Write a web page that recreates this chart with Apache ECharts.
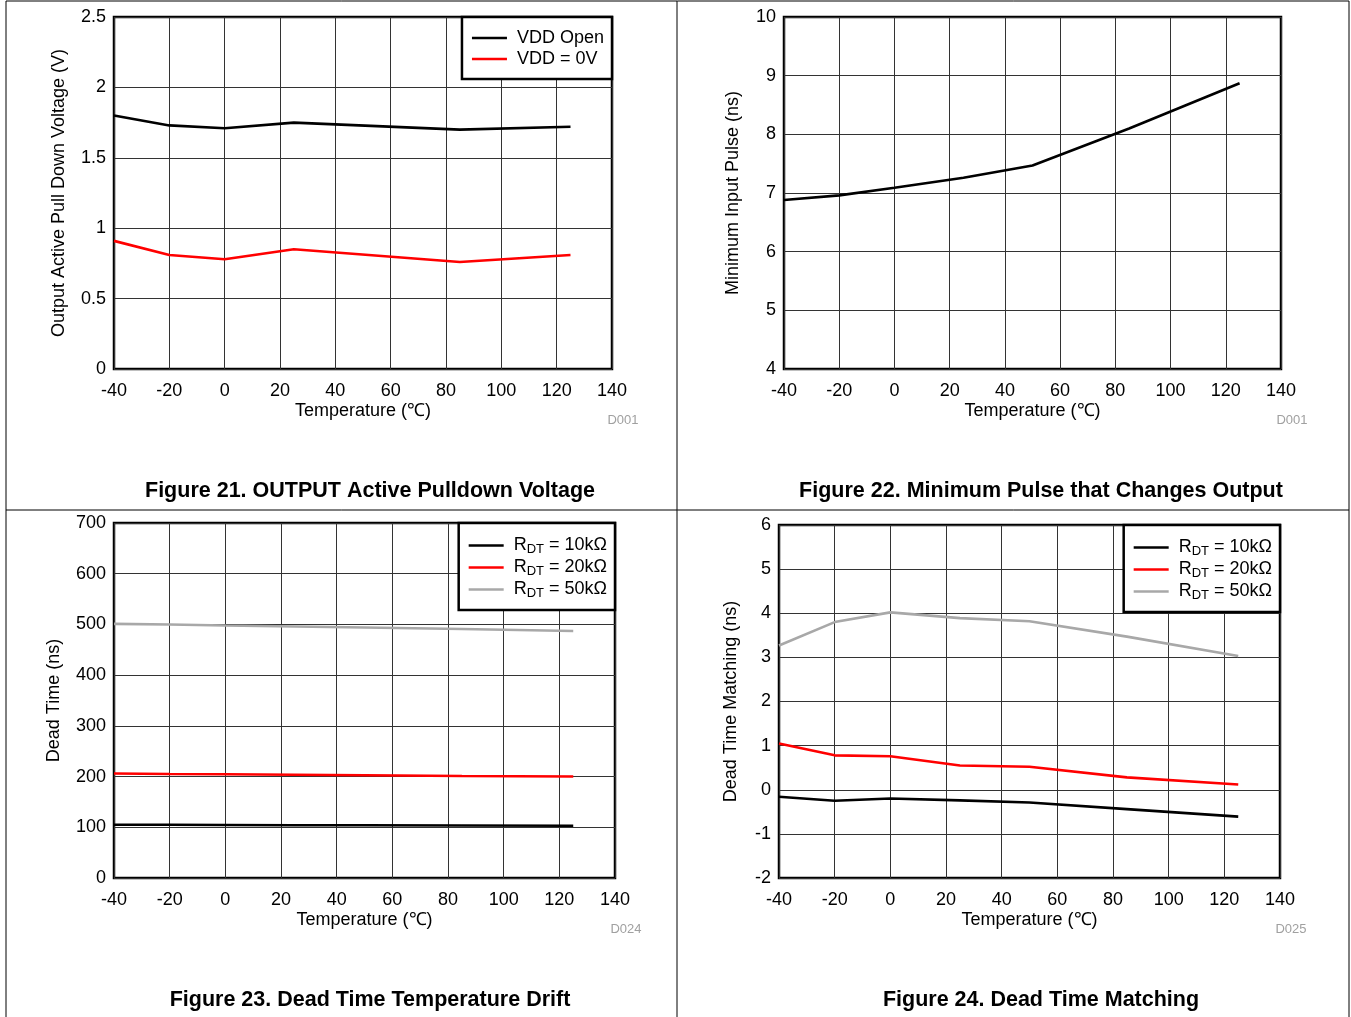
<!DOCTYPE html>
<html>
<head>
<meta charset="utf-8">
<script src="https://cdn.jsdelivr.net/npm/echarts@6/dist/echarts.min.js"></script>
<style>
html,body{margin:0;padding:0;background:#fff;}
#c{width:1351px;height:1017px;}
</style>
</head>
<body>
<div id="c"></div>
<script>
// ---- Data ----
const xTicks = [-40, -20, 0, 20, 40, 60, 80, 100, 120, 140];

// Figure 21
const f21Temp = [-40, -20, 0, 25, 85, 125];
const f21VddOpen = [1.80, 1.73, 1.71, 1.75, 1.70, 1.72];
const f21Vdd0V = [0.91, 0.81, 0.78, 0.85, 0.76, 0.81];

// Figure 22
const f22Temp = [-40, -20, 0, 25, 50, 85, 125];
const f22Pulse = [6.88, 6.96, 7.09, 7.26, 7.47, 8.10, 8.87];

// Figure 23
const f23Temp = [-40, -20, 0, 25, 50, 85, 125];
const f23R10 = [105, 105, 104.5, 104, 104, 103.5, 103];
const f23R20 = [206, 205, 204.5, 203.5, 202.5, 201, 200];
const f23R50 = [501, 500, 498, 496, 494, 491, 487];

// Figure 24
const f24Temp = [-40, -20, 0, 25, 50, 85, 125];
const f24R10 = [-0.16, -0.25, -0.20, -0.24, -0.29, -0.44, -0.61];
const f24R20 = [1.05, 0.78, 0.76, 0.55, 0.52, 0.28, 0.12];
const f24R50 = [3.27, 3.80, 4.02, 3.89, 3.82, 3.47, 3.03];

const captions = ['Figure 21. OUTPUT Active Pulldown Voltage', 'Figure 22. Minimum Pulse that Changes Output',
                  'Figure 23. Dead Time Temperature Drift', 'Figure 24. Dead Time Matching'];
const codes = ['D001', 'D001', 'D024', 'D025'];
const yNames = ['Output Active Pull Down Voltage (V)', 'Minimum Input Pulse (ns)', 'Dead Time (ns)', 'Dead Time Matching (ns)'];
const xName = 'Temperature (\u2103)';

// ---- Build ----
const FONT = 'Liberation Sans, Arial, sans-serif';
const FS = 18;
const pairs = (xs, ys) => xs.map((x, i) => [x, ys[i]]);

const grids = [
  {left: 114, top: 17, width: 498, height: 352},
  {left: 784, top: 17, width: 497, height: 352},
  {left: 114, top: 523, width: 501, height: 355},
  {left: 779, top: 525, width: 501, height: 353}
];
const yRanges = [[0, 2.5, 0.5], [4, 10, 1], [0, 700, 100], [-2, 6, 1]];
const yGaps = [46, 42, 51, 39];

const gridOpts = grids.map(g => Object.assign({show: true, borderColor: '#000', borderWidth: 2.5, backgroundColor: 'transparent', containLabel: false}, g));

const xAxes = grids.map((g, i) => ({
  gridIndex: i, type: 'value', min: -40, max: 140, interval: 20,
  name: xName, nameLocation: 'middle', nameGap: 33,
  nameTextStyle: {fontSize: FS, color: '#000', fontFamily: FONT},
  axisLine: {show: false}, axisTick: {show: false},
  axisLabel: {fontSize: FS, color: '#000', fontFamily: FONT, margin: 13},
  splitLine: {show: true, lineStyle: {color: '#333', width: 1}}
}));
const yAxes = grids.map((g, i) => ({
  gridIndex: i, type: 'value', min: yRanges[i][0], max: yRanges[i][1], interval: yRanges[i][2],
  name: yNames[i], nameLocation: 'middle', nameGap: yGaps[i],
  nameTextStyle: {fontSize: FS, color: '#000', fontFamily: FONT},
  axisLine: {show: false}, axisTick: {show: false},
  axisLabel: {fontSize: FS, color: '#000', fontFamily: FONT, margin: 8},
  splitLine: {show: true, lineStyle: {color: '#333', width: 1}}
}));

const BLACK = '#000000', RED = '#ff0000', GRAY = '#a8a8a8';
function line(name, i, xs, ys, color) {
  return {name: name, type: 'line', xAxisIndex: i, yAxisIndex: i, data: pairs(xs, ys),
    symbol: 'none', lineStyle: {color: color, width: 2.6}, itemStyle: {color: color},
    animation: false, z: 3};
}
const series = [
  line('VDD Open', 0, f21Temp, f21VddOpen, BLACK),
  line('VDD = 0V', 0, f21Temp, f21Vdd0V, RED),
  line('f22', 1, f22Temp, f22Pulse, BLACK),
  line('a10', 2, f23Temp, f23R10, BLACK),
  line('a20', 2, f23Temp, f23R20, RED),
  line('a50', 2, f23Temp, f23R50, GRAY),
  line('b10', 3, f24Temp, f24R10, BLACK),
  line('b20', 3, f24Temp, f24R20, RED),
  line('b50', 3, f24Temp, f24R50, GRAY)
];

const rich = {
  m: {fontSize: FS, color: '#000', fontFamily: FONT, lineHeight: 20},
  s: {fontSize: 13, color: '#000', fontFamily: FONT, lineHeight: 12, padding: [8, 0, 0, 0]}
};
const rLabel = {a10: '10', a20: '20', a50: '50', b10: '10', b20: '20', b50: '50'};
function legendBase(data, right, top, pad, gap) {
  return {
    show: true, data: data, orient: 'vertical', right: right, top: top, padding: pad,
    itemGap: gap, itemWidth: 35, itemHeight: 2.5, icon: 'rect', selectedMode: false,
    backgroundColor: '#fff', borderColor: '#000', borderWidth: 2.5, borderRadius: 0, z: 10,
    textStyle: {fontSize: FS, color: '#000', fontFamily: FONT, padding: [0, 0, 0, 5], rich: rich},
    formatter: n => rLabel[n] ? '{m|R}{s|DT}{m| = ' + rLabel[n] + 'k\u03A9}' : '{m|' + n + '}'
  };
}
const legends = [
  legendBase(['VDD Open', 'VDD = 0V'], 1351 - 612, 17, [12, 8, 11, 10], 3),
  legendBase(['a10', 'a20', 'a50'], 1351 - 615, 523, [12, 8, 10, 10], 1),
  legendBase(['b10', 'b20', 'b50'], 1351 - 1280, 525, [12, 8, 10, 10], 1)
];

const capPos = [[370, 491], [1041, 491], [370, 1000], [1041, 1000]];
const codePos = [[623, 420], [1292, 420], [626, 929], [1291, 929]];
const graphics = [];
capPos.forEach((p, i) => graphics.push({type: 'text', z: 20,
  style: {text: captions[i], x: p[0], y: p[1], textAlign: 'center', textVerticalAlign: 'middle',
    font: 'bold 21.5px ' + FONT, fill: '#000'}}));
codePos.forEach((p, i) => graphics.push({type: 'text', z: 20,
  style: {text: codes[i], x: p[0], y: p[1], textAlign: 'center', textVerticalAlign: 'middle',
    font: '13px ' + FONT, fill: '#a0a0a0'}}));
const frame = [[6, 1, 1349, 1], [6, 1, 6, 1017], [677, 1, 677, 1017], [1349, 1, 1349, 1017], [6, 510, 1349, 510]];
frame.forEach(f => graphics.push({type: 'line', z: 20, shape: {x1: f[0], y1: f[1], x2: f[2], y2: f[3]},
  style: {stroke: '#000', lineWidth: 1}}));

const chart = echarts.init(document.getElementById('c'), null, {renderer: 'canvas'});
chart.setOption({
  animation: false,
  backgroundColor: '#fff',
  grid: gridOpts, xAxis: xAxes, yAxis: yAxes,
  legend: legends, series: series, graphic: graphics
});
</script>
</body>
</html>
